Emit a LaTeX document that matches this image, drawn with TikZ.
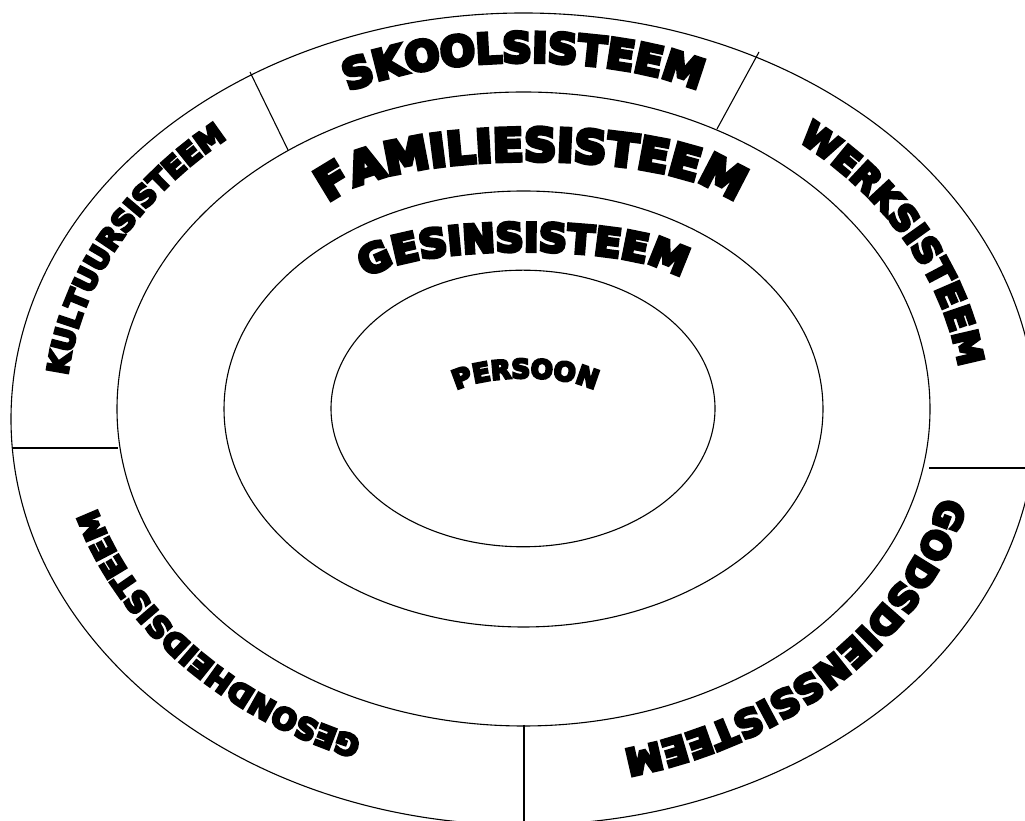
\documentclass[tikz,border=0pt]{standalone}
\usepackage{fontspec}
\newfontfamily\wa{DejaVu Sans}[UprightFont={* Bold}, FakeBold=9]
\usetikzlibrary{decorations.text}
\tikzset{
  ring/.style={draw=black, line width=1.1pt},
  divider/.style={draw=black, line width=1.1pt},
  arch/.style 2 args={decorate, decoration={text along path,
      text={|\wa\fontsize{#2}{#2}\selectfont|#1},
      text align=center}}
}
\begin{document}
\begin{tikzpicture}[x=1pt,y=1pt]
\useasboundingbox (0,0) rectangle (1025,821);
\fill[white] (0,0) rectangle (1025,821);
\clip (0,0) rectangle (1025,821);
% rings
\draw[ring] (523.5,402) ellipse [x radius=512.5pt, y radius=406pt];
\draw[ring] (523.5,412) ellipse [x radius=406.5pt, y radius=317pt];
\draw[ring] (523.5,412) ellipse [x radius=299.5pt, y radius=218pt];
\draw[ring] (523,412.5) ellipse [x radius=192pt, y radius=138.3pt];
% dividers
\coordinate (k1) at (250,749); \coordinate (k2) at (288,671);
\coordinate (w1) at (759,769); \coordinate (w2) at (717,692);
\coordinate (g1) at (12,373);  \coordinate (g2) at (118,373);
\coordinate (d1) at (929,353); \coordinate (d2) at (1025,353);
\coordinate (b1) at (524,96);  \coordinate (b2) at (524,0);
\draw[divider] (k1) -- (k2);
\draw[divider] (w1) -- (w2);
\draw[divider] (g1) -- (g2);
\draw[divider] (d1) -- (d2);
\draw[divider] (b1) -- (b2);
% inner arched texts
\path[arch={SKOOLSISTEEM}{41}] (308.8,711.1) -- (345,728) .. controls (433,769) and (614,769) .. (702,729) -- (738.4,712.5);
\path[arch={FAMILIESISTEEM}{45}] (300.5,592) -- (330,619) .. controls (390,674) and (673,674) .. (733,619) -- (762.5,592);
\path[arch={GESINSISTEEM}{39}] (337,522.4) -- (370,545) .. controls (418,578) and (629,578) .. (677,545) -- (710,522.4);
\path[arch={PERSOON}{26}] (435.3,418.6) -- (457,431) .. controls (485,447) and (566,447) .. (594,431) -- (615.7,418.6);
% outer ring texts
\path[arch={KULTUURSISTEEM}{29}, shift={(523.5,407)}] (182:458.5pt and 361pt) arc[start angle=182, end angle=123.4, x radius=458.5pt, y radius=361pt];
\path[arch={WERKSISTEEM}{35}, shift={(523.5,407)}] (58:439.5pt and 350pt) arc[start angle=58, end angle=-0.1, x radius=439.5pt, y radius=350pt];
\path[arch={GODSDIENSSISTEEM}{37}, shift={(523.5,412)}] (-5:431.4pt and 350.3pt) arc[start angle=-5, end angle=-84.4, x radius=431.4pt, y radius=350.3pt];
\path[arch={GESONDHEIDSISTEEM}{29.5}, shift={(523.5,412)}] (255:444.9pt and 353pt) arc[start angle=255, end angle=188.6, x radius=444.9pt, y radius=353pt];
\end{tikzpicture}
\end{document}
